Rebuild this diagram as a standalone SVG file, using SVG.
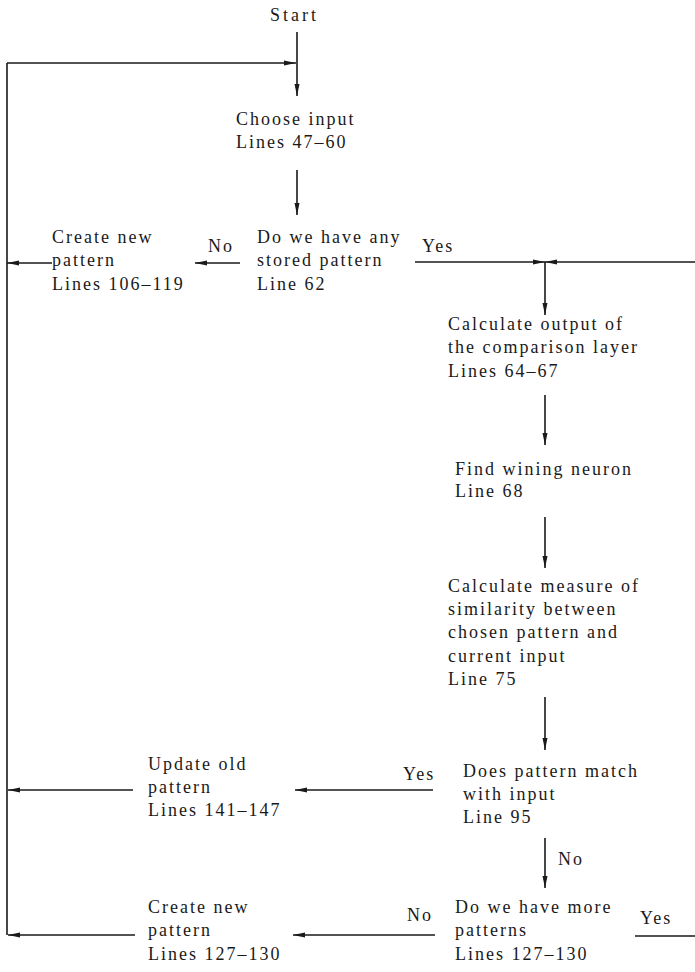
<svg xmlns="http://www.w3.org/2000/svg" width="695" height="972" viewBox="0 0 695 972">
<style>
text{font-family:"Liberation Serif","Times New Roman",serif;font-size:18px;letter-spacing:2px;fill:#1a1a1a}
.c{fill:none;stroke:#1a1a1a;stroke-width:1.6}
</style>
<defs>
<marker id="ah" viewBox="0 0 12 6" refX="12" refY="3" markerWidth="12" markerHeight="6" markerUnits="userSpaceOnUse" orient="auto">
<path d="M0,0.5 L12,3 L0,5.5 z" fill="#1a1a1a"/>
</marker>
</defs>
<rect width="695" height="972" fill="#fff"/>
<g id="connectors">
<path class="c" d="M297,32 V96" marker-end="url(#ah)"/>
<path class="c" d="M7,63 H296" marker-end="url(#ah)"/>
<path class="c" d="M7,63 V935"/>
<path class="c" d="M297,170 V215" marker-end="url(#ah)"/>
<path class="c" d="M240,263 H195" marker-end="url(#ah)"/>
<path class="c" d="M52,263 H7" marker-end="url(#ah)"/>
<path class="c" d="M415,262 H545" marker-end="url(#ah)"/>
<path class="c" d="M695,262 H545" marker-end="url(#ah)"/>
<path class="c" d="M545,262 V315" marker-end="url(#ah)"/>
<path class="c" d="M545,395 V445" marker-end="url(#ah)"/>
<path class="c" d="M545,517 V568" marker-end="url(#ah)"/>
<path class="c" d="M545,697 V750" marker-end="url(#ah)"/>
<path class="c" d="M433,790 H295" marker-end="url(#ah)"/>
<path class="c" d="M133,790 H8" marker-end="url(#ah)"/>
<path class="c" d="M545,838 V888" marker-end="url(#ah)"/>
<path class="c" d="M435,935 H293" marker-end="url(#ah)"/>
<path class="c" d="M135,935 H8" marker-end="url(#ah)"/>
<path class="c" d="M635,936 H695"/>
<text x="208" y="252">No</text>
<text x="422" y="252">Yes</text>
<text x="403" y="780">Yes</text>
<text x="558" y="865">No</text>
<text x="407" y="921">No</text>
<text x="640" y="924">Yes</text>
</g>
<g id="start"><text x="270" y="21" style="letter-spacing:3px">Start</text></g>
<g id="choose-input">
<text x="236" y="125">Choose input</text>
<text x="236" y="148">Lines 47–60</text>
</g>
<g id="stored-pattern">
<text x="257" y="243">Do we have any</text>
<text x="257" y="266">stored pattern</text>
<text x="257" y="290">Line 62</text>
</g>
<g id="create-new-1">
<text x="52" y="243">Create new</text>
<text x="52" y="266">pattern</text>
<text x="52" y="290">Lines 106–119</text>
</g>
<g id="calc-output">
<text x="448" y="330">Calculate output of</text>
<text x="448" y="353">the comparison layer</text>
<text x="448" y="377">Lines 64–67</text>
</g>
<g id="find-winner">
<text x="455" y="475">Find wining neuron</text>
<text x="455" y="497">Line 68</text>
</g>
<g id="calc-similarity">
<text x="448" y="592">Calculate measure of</text>
<text x="448" y="615">similarity between</text>
<text x="448" y="638">chosen pattern and</text>
<text x="448" y="662">current input</text>
<text x="448" y="685">Line 75</text>
</g>
<g id="pattern-match">
<text x="463" y="777">Does pattern match</text>
<text x="463" y="800">with input</text>
<text x="463" y="823">Line 95</text>
</g>
<g id="update-old">
<text x="148" y="770">Update old</text>
<text x="148" y="793">pattern</text>
<text x="148" y="816">Lines 141–147</text>
</g>
<g id="more-patterns">
<text x="455" y="913">Do we have more</text>
<text x="455" y="936">patterns</text>
<text x="455" y="960">Lines 127–130</text>
</g>
<g id="create-new-2">
<text x="148" y="913">Create new</text>
<text x="148" y="936">pattern</text>
<text x="148" y="960">Lines 127–130</text>
</g>
</svg>
